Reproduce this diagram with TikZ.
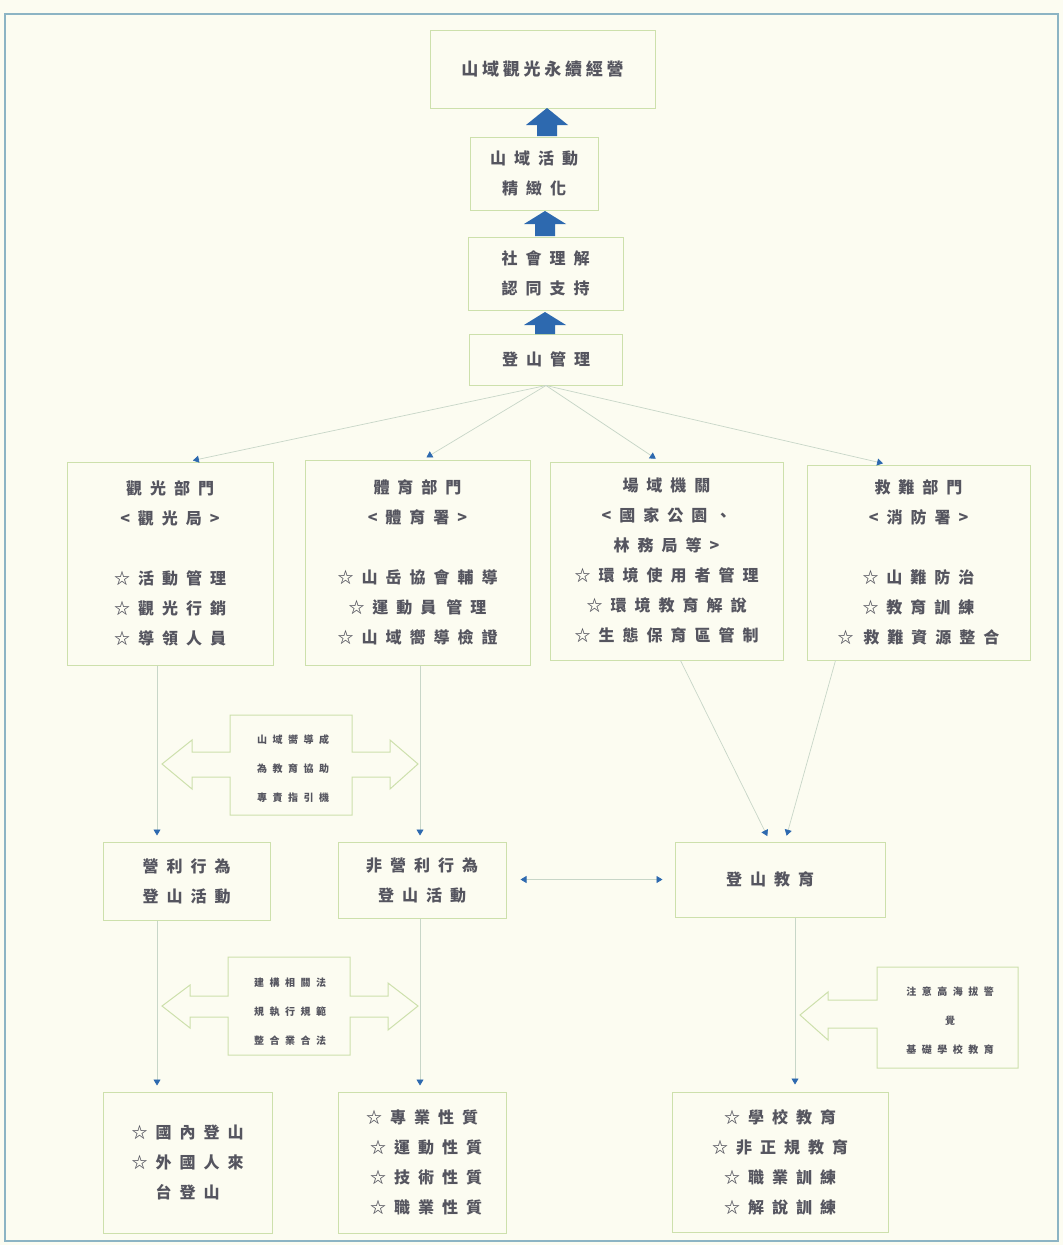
\documentclass[tikz,border=0pt]{standalone}
\usepackage{fontspec}
\usetikzlibrary{arrows.meta,calc}
\newfontfamily\cjk[LetterSpace=50]{Noto Sans CJK TC}
\newfontfamily\cjkt[LetterSpace=22]{Noto Sans CJK TC}
\newfontfamily\cjks[LetterSpace=55]{Noto Sans CJK TC}
\definecolor{bgc}{RGB}{252,252,241}
\definecolor{boxc}{RGB}{205,224,172}
\definecolor{framec}{RGB}{140,180,196}
\definecolor{txtc}{RGB}{85,85,95}
\definecolor{linec}{RGB}{200,214,200}
\definecolor{bluec}{RGB}{45,105,175}
\begin{document}
\begin{tikzpicture}[x=1pt,y=-1pt,
  box/.style={draw=boxc, line width=1pt, fill=bgc, inner sep=0pt, align=center,
    text=txtc, font=\cjk\bfseries\fontsize{16pt}{30pt}\selectfont},
  smallbox/.style={draw=none, inner sep=0pt, align=center, text=txtc,
    font=\cjks\bfseries\fontsize{10pt}{29pt}\selectfont},
  shapeline/.style={draw=boxc, line width=1pt, fill=bgc, line join=miter},
  conn/.style={draw=linec, line width=0.7pt},
  tip/.style={-{Triangle[length=6pt,width=7pt,color=bluec]}},
  dtip/.style={{Triangle[length=6pt,width=7pt,color=bluec]}-{Triangle[length=6pt,width=7pt,color=bluec]}},
  fat/.style={fill=bluec, draw=none}]
\useasboundingbox (0,0) rectangle (1063,1245);
\fill[bgc] (0,0) rectangle (1063,1245);
\draw[framec, line width=1.3pt] (5,14) rectangle (1058,1241);

% top chain
\node[box, minimum width=225pt, minimum height=78pt, font=\cjkt\bfseries\fontsize{17pt}{30pt}\selectfont] (goal) at (542.5,69) {山域觀光永續經營};
\node[box, minimum width=128pt, minimum height=73pt] (refine) at (534,173.5) {山域活動\\精緻化};
\node[box, minimum width=155pt, minimum height=73pt] (social) at (545.5,273.5) {社會理解\\認同支持};
\node[box, minimum width=153pt, minimum height=51pt] (mgmt) at (546,359.5) {登山管理};

% fat blue arrows
\fill[fat] (547,108) -- (568,125) -- (557,125) -- (557,136) -- (537,136) -- (537,125) -- (526,125) -- cycle;
\fill[fat] (545,211) -- (566,224) -- (555,224) -- (555,236) -- (535,236) -- (535,224) -- (524,224) -- cycle;
\fill[fat] (545,312) -- (566,325) -- (555,325) -- (555,334) -- (535,334) -- (535,325) -- (524,325) -- cycle;

% four departments
\node[box, minimum width=206pt, minimum height=203pt] (tour) at (170,563.5)
  {觀光部門\\<觀光局>\\[30pt]☆活動管理\\☆觀光行銷\\☆導領人員};
\node[box, minimum width=225pt, minimum height=205pt] (sport) at (417.5,562.5)
  {體育部門\\<體育署>\\[30pt]☆山岳協會輔導\\☆運動員\hspace{10pt}管理\\☆山域嚮導檢證};
\node[box, minimum width=233pt, minimum height=198pt] (field) at (666.5,561)
  {場域機關\\<國家公園、\\林務局等>\\☆環境使用者管理\\☆環境教育解說\\☆生態保育區管制};
\node[box, minimum width=223pt, minimum height=195pt] (rescue) at (918.5,562.5)
  {救難部門\\<消防署>\\[30pt]☆山難防治\\☆\hspace{8pt}教育訓練\\☆\hspace{10pt}救難資源整合};

% second level
\node[box, minimum width=167pt, minimum height=78pt] (profit) at (186.5,881) {營利行為\\登山活動};
\node[box, minimum width=168pt, minimum height=76pt] (nonprofit) at (422,880) {非營利行為\\登山活動};
\node[box, minimum width=210pt, minimum height=75pt] (edu) at (780,879.5) {登山教育\hspace{20pt}};

% bottom level
\node[box, minimum width=169pt, minimum height=141pt] (domestic) at (187.5,1162.5) {☆國內登山\\☆外國人來\\台登山};
\node[box, minimum width=168pt, minimum height=141pt] (nature) at (422,1162.5) {☆專業性質\\\hspace{8pt}☆運動性質\\\hspace{8pt}☆技術性質\\\hspace{8pt}☆職業性質};
\node[box, minimum width=216pt, minimum height=140pt] (school) at (780,1162) {☆學校教育\\☆非正規教育\\☆職業訓練\\☆解說訓練};

% helper x positions
\coordinate (xa) at (157,0);
\coordinate (xb) at (420,0);
\coordinate (xc) at (795,0);
\coordinate (x1) at (188,0);
\coordinate (x2) at (423,0);
\coordinate (x3) at (660,0);
\coordinate (x4) at (888,0);

% connectors from management
\draw[conn, tip, shorten >=5pt] (mgmt.south) -- (tour.north -| x1);
\draw[conn, tip, shorten >=4pt] (mgmt.south) -- (sport.north -| x2);
\draw[conn, tip, shorten >=5pt] (mgmt.south) -- (field.north -| x3);
\draw[conn, tip, shorten >=5pt] (mgmt.south) -- (rescue.north -| x4);

% double-arrow blocks (outline shapes)
\draw[shapeline] (230,715) -- (352,715) -- (352,752) -- (390,752) -- (390,740) -- (418,764) -- (390,789) -- (390,777) -- (352,777) -- (352,815) -- (230,815) -- (230,777) -- (192,777) -- (192,789) -- (162,764) -- (192,740) -- (192,752) -- (230,752) -- cycle;
\node[smallbox] (guide) at (293,769) {山域嚮導成\\為教育協助\\專責指引機};

\draw[shapeline] (228,957) -- (350,957) -- (350,996) -- (388,996) -- (388,983) -- (418,1006) -- (388,1030) -- (388,1017) -- (350,1017) -- (350,1055) -- (228,1055) -- (228,1017) -- (190,1017) -- (190,1028) -- (162,1006) -- (190,985) -- (190,996) -- (228,996) -- cycle;
\node[smallbox] (law) at (290,1012) {建構相關法\\規執行規範\\整合業合法};

\draw[shapeline] (877,967) -- (1018,967) -- (1018,1068) -- (877,1068) -- (877,1028) -- (828,1028) -- (828,1040) -- (800,1015) -- (828,992) -- (828,1000) -- (877,1000) -- cycle;
\node[smallbox] (alert) at (950,1021) {注意高海拔警\\覺\\基礎學校教育};

% vertical connectors
\draw[conn, tip, shorten >=6pt] (tour.south -| xa) -- (profit.north -| xa);
\draw[conn, tip, shorten >=6pt] (sport.south -| xb) -- (nonprofit.north -| xb);
\draw[conn, tip, shorten >=6pt] (profit.south -| xa) -- (domestic.north -| xa);
\draw[conn, tip, shorten >=6pt] (nonprofit.south -| xb) -- (nature.north -| xb);
\draw[conn, tip, shorten >=7pt] (edu.south -| xc) -- (school.north -| xc);

% diagonals into mountaineering education
\draw[conn, tip, shorten >=6pt] ($(field.south)+(14,0)$) -- ($(edu.north)+(-10,0)$);
\draw[conn, tip, shorten >=6pt] ($(rescue.south)+(-83,0)$) -- ($(edu.north)+(5,0)$);

% link between non-profit and education
\draw[conn, dtip, shorten <=14pt, shorten >=12pt] (nonprofit.east |- edu.west) -- (edu.west);
\end{tikzpicture}
\end{document}
